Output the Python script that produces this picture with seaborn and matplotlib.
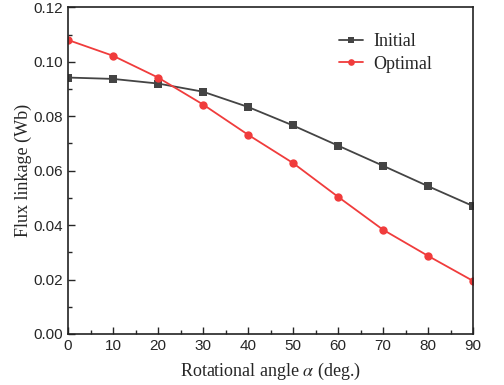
import matplotlib
matplotlib.use("Agg")
import matplotlib.pyplot as plt
import seaborn as sns
import pandas as pd
from matplotlib.ticker import MultipleLocator, AutoMinorLocator

angles = [0, 10, 20, 30, 40, 50, 60, 70, 80, 90]
initial = [0.0942, 0.0937, 0.0920, 0.0890, 0.0834, 0.0766, 0.0692, 0.0618, 0.0543, 0.0470]
optimal = [0.1080, 0.1022, 0.0942, 0.0843, 0.0732, 0.0628, 0.0504, 0.0383, 0.0287, 0.0195]

df = pd.DataFrame({
    "angle": angles * 2,
    "flux": initial + optimal,
    "series": ["Initial"] * len(angles) + ["Optimal"] * len(angles),
})

sns.set_style("ticks")
plt.rcParams["font.family"] = ["Liberation Sans", "DejaVu Sans"]
plt.rcParams["mathtext.fontset"] = "stix"

fig = plt.figure(figsize=(5.04, 3.85), dpi=100)
ax = fig.add_axes([0.135, 0.1325, 0.8035, 0.8485])

palette = {"Initial": "#444444", "Optimal": "#f03c3c"}
sns.lineplot(data=df, x="angle", y="flux", hue="series", style="series",
             markers={"Initial": "s", "Optimal": "o"}, dashes=False,
             palette=palette, markersize=6, markeredgewidth=0, linewidth=1.3,
             ax=ax)

ax.set_xlim(0, 90)
ax.set_ylim(0, 0.12)
ax.xaxis.set_major_locator(MultipleLocator(10))
ax.xaxis.set_minor_locator(AutoMinorLocator(2))
ax.yaxis.set_major_locator(MultipleLocator(0.02))
ax.yaxis.set_minor_locator(AutoMinorLocator(2))
ax.yaxis.set_major_formatter(plt.FuncFormatter(lambda v, p: f"{v:.2f}"))
ax.tick_params(which="both", direction="in", top=False, right=False, labelsize=11)
ax.tick_params(which="major", length=5, width=1)
ax.tick_params(which="minor", length=3, width=1)
for s in ax.spines.values():
    s.set_linewidth(1.2)
    s.set_color("#222222")

serif = ["Liberation Serif", "DejaVu Serif"]
ax.set_xlabel(r"Rotational angle $\alpha$ (deg.)", family=serif, fontsize=13, labelpad=6)
ax.set_ylabel("Flux linkage (Wb)", family=serif, fontsize=13, labelpad=1)

leg = ax.legend(loc="upper left", bbox_to_anchor=(0.63, 0.97), frameon=False,
                prop={"family": serif, "size": 13}, handlelength=1.3,
                handletextpad=0.6, labelspacing=0.3, markerscale=0.8)

fig.savefig("out.png", dpi=100)
